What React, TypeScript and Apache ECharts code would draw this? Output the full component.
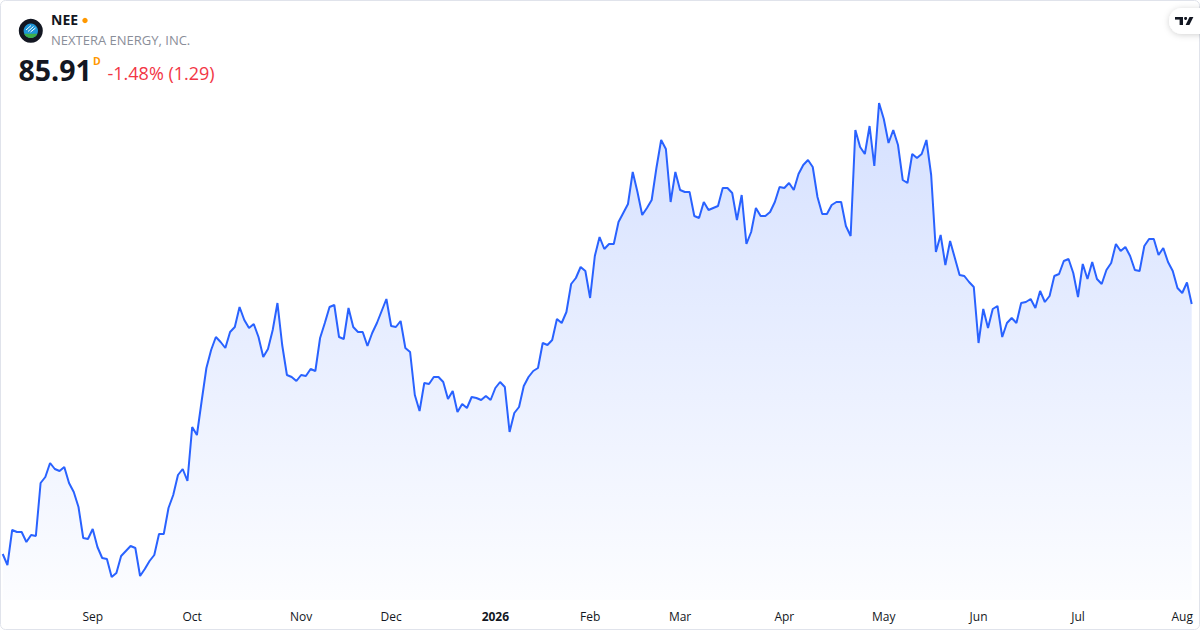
import React, { useEffect, useRef } from "react";
import * as echarts from "echarts";

// ---- Data ----
const START_DATE = "2025-08-05";
const END_DATE = "2026-08-05";
const MARKET_HOLIDAYS = [
  "2025-09-01", "2025-11-27", "2025-12-25", "2026-01-01", "2026-01-19",
  "2026-02-16", "2026-04-03", "2026-05-25", "2026-06-19", "2026-07-03",
];
const MONTH_LABELS = ["Jan", "Feb", "Mar", "Apr", "May", "Jun", "Jul", "Aug", "Sep", "Oct", "Nov", "Dec"];

const closesAugSep = [
  70.91, 70.25, 72.35, 72.23, 72.23, 71.63, 72.05, 71.99, 75.17, 75.53,
  76.37, 76.01, 75.89, 76.13, 75.17, 74.63, 73.73, 71.87, 71.81, 72.41,
  71.33, 70.67, 70.61, 69.53, 69.77, 70.79, 71.09, 71.39, 71.27, 69.59,
  70.01, 70.49, 70.85, 72.11, 72.11, 73.67, 74.45, 75.65, 76.01, 75.29,
  78.53, 78.05, 80.09,
];
const closesOctNov = [
  82.07, 83.15, 83.93, 83.63, 83.27, 84.23, 84.53, 85.73, 84.95, 84.47,
  84.71, 83.93, 82.73, 83.21, 84.35, 85.97, 83.45, 81.65, 81.53, 81.29,
  81.65, 81.59, 82.01, 81.89, 83.87, 84.77, 85.73, 85.85, 83.93, 83.81,
  85.67, 84.53, 84.23, 84.23, 83.39, 84.17, 84.77, 85.49, 86.21, 84.59,
  84.53, 84.89,
];
const closesDecJan = [
  83.27, 83.03, 80.45, 79.49, 81.17, 81.11, 81.53, 81.53, 81.23, 80.21,
  80.69, 79.43, 79.91, 79.67, 80.33, 80.27, 80.15, 80.39, 80.15, 80.87,
  81.23, 80.93, 78.23, 79.37, 79.73, 80.99, 81.53, 81.89, 82.07, 83.57,
  83.45, 83.75, 85.01, 84.77, 85.43, 87.11, 87.47, 88.13, 87.89, 86.27,
  88.79, 89.93,
];
const closesFebApr = [
  89.21, 89.51, 89.51, 90.83, 91.37, 91.91, 93.83, 92.63, 91.25, 91.67,
  92.15, 94.07, 95.75, 95.21, 92.03, 93.83, 92.75, 92.63, 92.63, 91.19,
  91.07, 92.03, 91.55, 91.67, 91.79, 92.87, 92.87, 92.57, 90.95, 92.45,
  89.51, 90.23, 91.67, 91.19, 91.19, 91.43, 92.03, 92.93, 92.87, 93.17,
  92.75, 93.71, 94.25,
];
const closesAprJun = [
  94.55, 94.13, 92.33, 91.31, 91.31, 91.85, 92.03, 92.03, 90.59, 89.99,
  96.35, 95.33, 94.91, 96.59, 94.19, 97.97, 97.01, 95.57, 96.35, 95.45,
  93.35, 93.17, 94.91, 94.67, 94.91, 95.75, 93.65, 89.03, 90.05, 88.25,
  89.69, 88.67, 87.65, 87.59, 87.23, 86.93, 83.57, 85.61, 84.47, 85.61,
  85.79,
];
const closesJunAug = [
  83.93, 84.77, 85.07, 84.77, 85.97, 86.03, 86.21, 85.67, 86.69, 86.03,
  86.39, 87.59, 87.71, 88.49, 88.61, 87.77, 86.33, 88.31, 87.41, 88.43,
  87.41, 87.11, 87.95, 88.37, 89.51, 89.09, 89.33, 88.79, 87.95, 87.89,
  89.39, 89.81, 89.81, 88.85, 89.27, 88.43, 87.89, 86.87, 86.57, 87.20,
  85.91,
];

const closes = [
  ...closesAugSep, ...closesOctNov, ...closesDecJan,
  ...closesFebApr, ...closesAprJun, ...closesJunAug,
];

const Y_MIN = 68.15;
const Y_MAX = 101.15;

function buildTradingDays(): string[] {
  const out: string[] = [];
  const holidays = new Set(MARKET_HOLIDAYS);
  const d = new Date(START_DATE + "T00:00:00Z");
  const end = new Date(END_DATE + "T00:00:00Z");
  while (d.getTime() <= end.getTime()) {
    const wd = d.getUTCDay();
    const s = d.toISOString().slice(0, 10);
    if (wd !== 0 && wd !== 6 && !holidays.has(s)) out.push(s);
    d.setUTCDate(d.getUTCDate() + 1);
  }
  return out;
}

const FONT = "'Open Sans', 'Noto Sans', sans-serif";

export default function App() {
  const ref = useRef<HTMLDivElement>(null);

  useEffect(() => {
    document.body.style.margin = "0";
    if (!ref.current) return;
    const chart = echarts.init(ref.current, undefined, { renderer: "svg" });
    const dates = buildTradingDays();
    const isMonthStart = (i: number) =>
      i > 0 && dates[i].slice(0, 7) !== dates[i - 1].slice(0, 7);

    // Logo lower (green) cap polygon
    const cx = 30.8, cy = 30.8, ri = 7.2;
    const cap: number[][] = [];
    for (let a = 25; a <= 155; a += 10) {
      const r = (a * Math.PI) / 180;
      cap.push([cx + ri * Math.cos(r), cy + ri * Math.sin(r)]);
    }

    chart.setOption({
      animation: false,
      backgroundColor: "#ffffff",
      grid: { left: 2.7, right: 8.3, top: 50, bottom: 30 },
      xAxis: {
        type: "category",
        data: dates,
        boundaryGap: false,
        axisLine: { show: false },
        axisTick: { show: false },
        splitLine: { show: false },
        axisLabel: {
          interval: (i: number) => isMonthStart(i),
          margin: 10,
          color: "#131722",
          fontSize: 12,
          fontFamily: FONT,
          formatter: (v: string) => {
            const m = parseInt(v.slice(5, 7), 10) - 1;
            if (m === 0) return "{y|" + v.slice(0, 4) + "}";
            return MONTH_LABELS[m];
          },
          rich: {
            y: { fontWeight: "bold", fontSize: 12, color: "#131722", fontFamily: FONT },
          },
        },
      },
      yAxis: {
        type: "value",
        min: Y_MIN,
        max: Y_MAX,
        show: false,
        splitLine: { show: false },
      },
      series: [
        {
          type: "line",
          data: closes,
          symbol: "none",
          lineStyle: { color: "#2962ff", width: 2 },
          areaStyle: {
            origin: "start",
            color: new echarts.graphic.LinearGradient(0, 0, 0, 1, [
              { offset: 0, color: "rgba(41,98,255,0.28)" },
              { offset: 1, color: "rgba(41,98,255,0.02)" },
            ]),
          },
        },
      ],
      graphic: [
        {
          type: "rect",
          shape: { x: 0.5, y: 0.5, width: 1199, height: 629, r: 5 },
          style: { fill: "none", stroke: "#e0e3eb", lineWidth: 1 },
          silent: true,
        },
        // company logo
        { type: "circle", shape: { cx, cy, r: 12 }, style: { fill: "#131722" } },
        { type: "circle", shape: { cx, cy, r: ri }, style: { fill: "#1e96d8" } },
        { type: "polygon", shape: { points: cap }, style: { fill: "#3fae49" } },
        { type: "line", shape: { x1: 26, y1: 30, x2: 31, y2: 25.5 }, style: { stroke: "#ffffff", lineWidth: 1 } },
        { type: "line", shape: { x1: 28, y1: 31.5, x2: 33.5, y2: 26.5 }, style: { stroke: "#ffffff", lineWidth: 1 } },
        { type: "line", shape: { x1: 30.5, y1: 32, x2: 35.5, y2: 28 }, style: { stroke: "#ffffff", lineWidth: 1 } },
        {
          type: "text",
          left: 51, top: 12,
          style: { text: "NEE", fontSize: 14, fontWeight: "bold", fill: "#131722", fontFamily: FONT },
        },
        { type: "circle", shape: { cx: 85, cy: 20.5, r: 2.7 }, style: { fill: "#ff9800" } },
        {
          type: "text",
          left: 51, top: 33.5,
          style: { text: "NEXTERA ENERGY, INC.", fontSize: 13, fill: "#8a8e99", fontFamily: FONT },
        },
        {
          type: "text",
          left: 18.5, top: 55.5,
          style: { text: "85.91", fontSize: 28.5, fontWeight: "bold", fill: "#131722", fontFamily: FONT },
        },
        {
          type: "text",
          left: 93, top: 55,
          style: { text: "D", fontSize: 10.5, fontWeight: "bold", fill: "#ff9800", fontFamily: FONT },
        },
        {
          type: "text",
          left: 107.5, top: 63.5,
          style: { text: "-1.48% (1.29)", fontSize: 18, fill: "#f23645", fontFamily: FONT },
        },
        // TradingView badge
        {
          type: "rect",
          shape: { x: 1169, y: 8, width: 44, height: 26, r: 13 },
          style: { fill: "#ffffff", shadowBlur: 6, shadowColor: "rgba(0,0,0,0.18)", shadowOffsetY: 1 },
        },
        { type: "rect", shape: { x: 1175, y: 17, width: 8, height: 2.6 }, style: { fill: "#131722" } },
        { type: "rect", shape: { x: 1179.6, y: 17, width: 3.4, height: 8 }, style: { fill: "#131722" } },
        { type: "circle", shape: { cx: 1185.6, cy: 18.4, r: 1.5 }, style: { fill: "#131722" } },
        {
          type: "polygon",
          shape: { points: [[1189.5, 17], [1193.4, 17], [1189.4, 25], [1185.6, 25]] },
          style: { fill: "#131722" },
        },
      ],
    });
    return () => chart.dispose();
  }, []);

  return (
    <div
      ref={ref}
      style={{ position: "fixed", left: 0, top: 0, width: 1200, height: 630 }}
    />
  );
}
